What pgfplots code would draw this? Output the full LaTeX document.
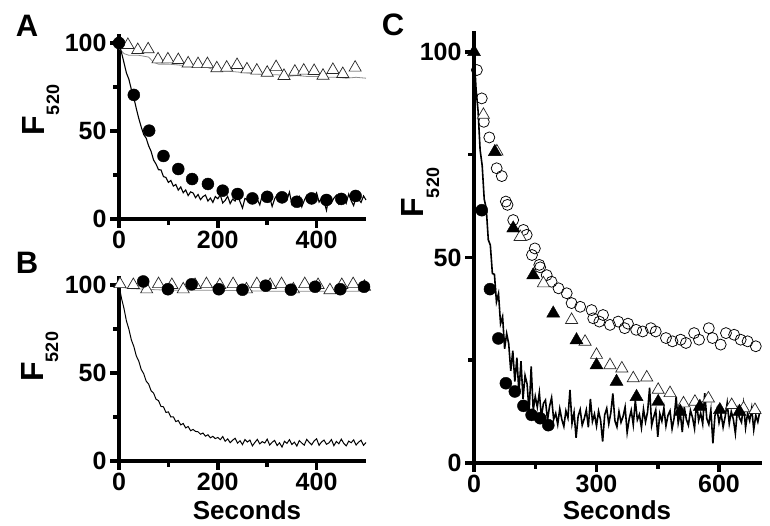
\documentclass[border=0pt]{standalone}
\usepackage{fontspec}
\setmainfont{Liberation Sans}
\usepackage{pgfplots}
\pgfplotsset{compat=1.18}
\pgfplotsset{
  panel/.style={
    scale only axis,
    axis lines=left,
    axis line style={-, line width=4.5pt, black},
    tick align=outside,
    major tick length=9pt,
    minor tick length=6pt,
    tick style={black, line width=3.5pt},
    ticklabel style={font=\bfseries\fontsize{25}{25}\selectfont},
    /pgf/number format/assume math mode=true,
    clip=false,
    ymin=0, ymax=105,
    ytick={0,50,100}, minor ytick={25,75},
  },
  noisy/.style={black, line width=1.1pt, mark=none},
  fitgray/.style={black!45, line width=0.8pt, mark=none},
  opentri/.style={only marks, mark=triangle*, mark size=7pt, mark options={fill=white, draw=black!85, line width=0.7pt}},
  filltri/.style={only marks, mark=triangle*, mark size=7.5pt, mark options={fill=black, draw=black}},
  fillcirc/.style={only marks, mark=*, mark size=6pt, mark options={fill=black, draw=black}},
  opencirc/.style={only marks, mark=o, mark size=5.5pt, mark options={draw=black, line width=0.75pt}},
}
\begin{document}
\begin{tikzpicture}
\useasboundingbox (0pt,0pt) rectangle (770pt,526pt);

% ---------------- Panel A ----------------
\begin{axis}[panel, at={(119pt,307pt)}, anchor=south west,
  width=247pt, height=184.8pt,
  xmin=0, xmax=500, xtick={0,200,400}, minor xtick={100,300}]
\addplot[fitgray] coordinates {
(0,97) (10,94) (20,93) (40,93) (60,92) (70,89) (80,88) (100,88) (120,87.5) (140,87)
(160,86.5) (180,86) (200,84) (220,84) (240,83.5) (260,83) (280,82.5) (300,82) (320,82)
(340,81) (360,81.5) (380,81) (400,81) (420,80.5) (440,80.5) (460,80) (480,80.5) (500,80)};
\addplot[opentri] coordinates {
(18,98.9) (38,96) (59,96.4) (79,90.7) (99,90.7) (120,90.3) (140,88.4) (160,88) (179,88)
(198,85.6) (218,86) (239,87.5) (259,85) (279,84.3) (300,83.1) (318,86.3) (334,81.3)
(356,83.7) (374,84.3) (395,84.1) (413,81.4) (433,84.7) (453,82.4) (478,86)};
\addplot[noisy] coordinates {
(0,100) (5,94.6) (10,88.9) (15,83.0) (20,79.4) (25,73.6) (30,68.9) (35,62.8) (40,57.2)
(45,52.3) (50,48.0) (55,45.9) (60,41.6) (65,38.4) (70,33.5) (75,31.2) (80,28.0) (85,27.9)
(90,24.1) (95,23.6) (100,20.8) (105,21.9) (110,18.7) (115,19.6) (120,16.4) (125,18.2)
(130,14.9) (135,16.5) (140,13.3) (145,15.4)
(150,14.8) (155,12.1) (160,13.9) (165,11.0) (170,12.7) (175,13.6) (180,10.2) (185,11.9)
(190,9.4) (195,12.8) (200,11.5) (205,13.7) (210,9.1) (215,10.6) (220,12.9) (225,8.7)
(230,11.3) (235,10.2) (240,14.1) (245,9.8) (250,6.2) (255,11.7) (260,10.9) (265,13.2)
(270,9.5) (275,12.4) (280,11.1) (285,8.0) (290,13.6) (295,10.3) (300,9.7) (305,12.5)
(310,7.1) (315,11.4) (320,13.8) (325,10.6) (330,9.2) (335,12.1) (340,10.8) (345,15.3)
(350,8.4) (355,11.2) (360,9.9) (365,12.7) (370,6.9) (375,10.5) (380,13.4) (385,11.0)
(390,8.8) (395,12.2) (400,14.9) (405,9.6) (410,11.7) (415,10.1) (420,4.9) (425,12.6)
(430,9.3) (435,11.8) (440,13.5) (445,8.5) (450,10.7) (455,12.4) (460,9.0) (465,14.2)
(470,10.4) (475,7.6) (480,12.9) (485,11.3) (490,9.4) (495,13.1) (500,10.8)};
\addplot[fillcirc] coordinates {
(0,100) (30,70.5) (61,50.2) (90,35.8) (120,28.4) (148,22.7) (180,19.9) (210,16.1)
(240,14.2) (270,11.7) (300,12.6) (330,12.3) (360,9.8) (390,11.7) (420,10.8) (450,11.4) (479,13.1)};
\end{axis}

% ---------------- Panel B ----------------
\begin{axis}[panel, at={(119pt,65pt)}, anchor=south west,
  width=247pt, height=184.8pt,
  xmin=0, xmax=500, xtick={0,200,400}, minor xtick={100,300}]
\addplot[fitgray] coordinates {
(0,99) (20,98) (60,97.5) (100,97) (200,97) (300,96.5) (400,96.5) (500,96.5)};
\addplot[opentri] coordinates {
(2,100.5) (29,100) (56,97.5) (80,100.5) (107,100) (130,97.5) (154,100) (177,100.5)
(204,100) (231,100.5) (258,97.5) (279,100.5) (306,100) (329,100.5) (353,97.5)
(376,100.5) (403,100) (427,97) (451,100) (474,100.5) (497,99)};
\addplot[noisy, line width=1.0pt] coordinates {
(0,100) (5,92.5) (10,86.8) (15,79.6) (20,74.9) (25,68.8) (30,65.1) (35,59.7) (40,56.8)
(45,52.0) (50,49.6) (55,45.4) (60,43.7) (65,39.9) (70,38.6) (75,35.1) (80,34.3) (85,31.0)
(90,30.8) (95,27.6) (100,27.9) (105,25.0) (110,25.1) (115,22.4) (120,23.0) (125,20.5)
(130,21.3) (135,18.8) (140,19.6) (145,17.2)
(150,17.9) (155,16.8) (160,16.6) (165,15.2) (170,15.9) (175,14.1) (180,14.9) (185,13.2)
(190,14.0) (195,12.7)
(200,13.4) (205,12.1) (210,13.9) (215,11.2) (220,12.6) (225,10.4) (230,11.8) (235,12.9)
(240,10.1) (245,11.5) (250,9.3) (255,12.2) (260,10.8) (265,11.9) (270,8.6) (275,10.5)
(280,12.3) (285,9.7) (290,11.0) (295,10.2) (300,12.4) (305,9.1) (310,10.6) (315,11.7)
(320,8.8) (325,10.3) (330,7.9) (335,11.2) (340,10.0) (345,12.1) (350,9.4) (355,10.7)
(360,8.5) (365,11.6) (370,10.2) (375,9.0) (380,12.3) (385,10.6) (390,9.2) (395,11.4)
(400,12.6) (405,8.9) (410,10.8) (415,11.9) (420,9.5) (425,10.3) (430,12.2) (435,8.7)
(440,11.1) (445,9.8) (450,12.4) (455,10.0) (460,8.6) (465,11.3) (470,10.4) (475,12.0)
(480,9.1) (485,10.7) (490,11.8) (495,8.9) (500,10.5)};
\addplot[fillcirc] coordinates {
(49,102) (99,97.6) (147,100.4) (202,97.6) (250,97.3) (297,99.6) (348,97.3) (397,99) (448,97.6) (496,99)};
\end{axis}

% ---------------- Panel C ----------------
\begin{axis}[panel, at={(474pt,63pt)}, anchor=south west,
  width=287.9pt, height=431.6pt,
  xmin=0, xmax=705, xtick={0,300,600}, minor xtick={150,450}]
\addplot[noisy, line width=1.6pt] coordinates {
(0,100) (5,91.0) (10,85.6) (15,76.1) (20,72.4) (25,64.2) (30,61.9) (35,54.3) (40,53.0)
(45,46.1) (50,45.9) (55,39.2)
(60,41.2) (65,33.9) (70,35.6) (75,27.8) (80,31.5) (85,29.0) (90,22.4) (95,27.3) (100,19.8)
(105,25.6) (110,17.1) (115,24.8) (120,15.6) (125,21.3) (130,19.2) (135,12.4) (140,23.5)
(145,12.8) (150,16.2) (155,13.6) (160,17.1) (165,11.2) (170,14.5) (175,15.3) (180,10.4)
(185,13.8) (190,15.9) (195,10.6)
(200,12.1) (205,9.4) (210,13.2) (215,10.6) (220,8.9) (225,12.7) (230,11.0) (235,17.8)
(240,9.6) (245,12.3) (250,6.1) (255,11.4) (260,13.0) (265,9.2) (270,10.8) (275,12.9)
(280,8.7) (285,15.6) (290,10.1) (295,11.9) (300,9.0) (305,12.6) (310,10.4) (315,5.2)
(320,11.7) (325,13.3) (330,9.5) (335,12.2) (340,16.9) (345,10.3) (350,8.8) (355,12.5)
(360,9.9) (365,11.3) (370,13.6) (375,7.4) (380,10.7) (385,12.8) (390,9.3) (395,15.2)
(400,10.5) (405,11.8) (410,8.6) (415,13.1) (420,10.0) (425,12.4) (430,18.3) (435,9.1)
(440,11.2) (445,12.9) (450,6.4) (455,12.0) (460,10.2) (465,13.4) (470,9.0) (475,11.6)
(480,12.7) (485,8.3) (490,10.9) (495,16.1) (500,9.7) (505,12.3) (510,7.5) (515,13.5)
(520,10.6) (525,9.2) (530,12.8) (535,11.1) (540,8.4) (545,14.9) (550,10.3) (555,12.1)
(560,9.5) (565,17.0) (570,10.8) (575,9.4) (580,12.9) (585,4.8) (590,11.5) (595,13.2)
(600,9.8) (605,12.0) (610,8.7) (615,11.3) (620,14.6) (625,9.6) (630,12.5) (635,10.7)
(640,7.2) (645,13.0) (650,11.0) (655,9.9) (660,14.2) (665,8.6) (670,12.1) (675,10.3)
(680,13.3) (685,8.1) (690,11.6) (695,10.0) (700,12.6)};
\addplot[opencirc] coordinates {
(7,95.6) (19,88.7) (24,83) (37.5,79.2) (55.5,71.7) (68,69.8) (78,63.6) (82,62.8) (96,59.1)
(121,56.7) (129,55.5) (142,50.6) (149,52.2) (160,48.2) (162,47.6) (178,45.7) (190,44.1)
(207,42.5) (227,41.3) (239,38.9) (260,38) (288,37.2) (292,35.2) (307,34.4) (316,36)
(333,33.6) (353,34.4) (369,32.8) (377,33.9) (397,32.4) (413,32) (433,32.8) (445,32)
(470,30.4) (486,29.6) (506,30) (519,29.2) (539,31.6) (551,30) (575,32.8) (584,30.4)
(604,28.8) (617,31.6) (637,31.2) (653,30) (670,29.6) (690,28.4)};
\addplot[opentri] coordinates {
(23,84.7) (56,75.8) (113,55) (170,43.7) (239,34.8) (272,29.5) (300,26.3) (333,23.8)
(362,23) (390,20.6) (423,20.8) (451,17.8) (480,17) (513,14.5) (541,14.9) (574,15.7)
(631,14.1) (660,13.3) (688,12.9)};
\addplot[filltri] coordinates {
(0,100) (51,75.7) (96,57.1) (145,45.7) (194,36.4) (251,29.9) (300,23.8) (349,19.8)
(398,16.1) (451,14.9) (505,12.5) (553,13.7) (602,12.9) (650,12.5)};
\addplot[fillcirc] coordinates {
(19,61.5) (39,42.3) (59.6,30.3) (78,19.4) (100,17.4) (121,13.9) (141,11.7) (162,10.9) (182,9.2)};
\end{axis}

% ---------------- Labels ----------------
\node[font=\bfseries\fontsize{31}{31}\selectfont] at (27pt,500pt) {A};
\node[font=\bfseries\fontsize{31}{31}\selectfont] at (27pt,263pt) {B};
\node[font=\bfseries\fontsize{31}{31}\selectfont] at (393pt,501pt) {C};

\node[rotate=90, font=\bfseries\fontsize{32}{32}\selectfont] at (33pt,400pt) {F};
\node[rotate=90, font=\bfseries\fontsize{18}{18}\selectfont] at (53pt,426pt) {520};
\node[rotate=90, font=\bfseries\fontsize{32}{32}\selectfont] at (32pt,154pt) {F};
\node[rotate=90, font=\bfseries\fontsize{18}{18}\selectfont] at (52pt,179pt) {520};
\node[rotate=90, font=\bfseries\fontsize{32}{32}\selectfont] at (412pt,318pt) {F};
\node[rotate=90, font=\bfseries\fontsize{18}{18}\selectfont] at (433pt,343pt) {520};

\node[font=\bfseries\fontsize{26}{26}\selectfont] at (247pt,16pt) {Seconds};
\node[font=\bfseries\fontsize{26}{26}\selectfont] at (617pt,16pt) {Seconds};
\end{tikzpicture}
\end{document}
